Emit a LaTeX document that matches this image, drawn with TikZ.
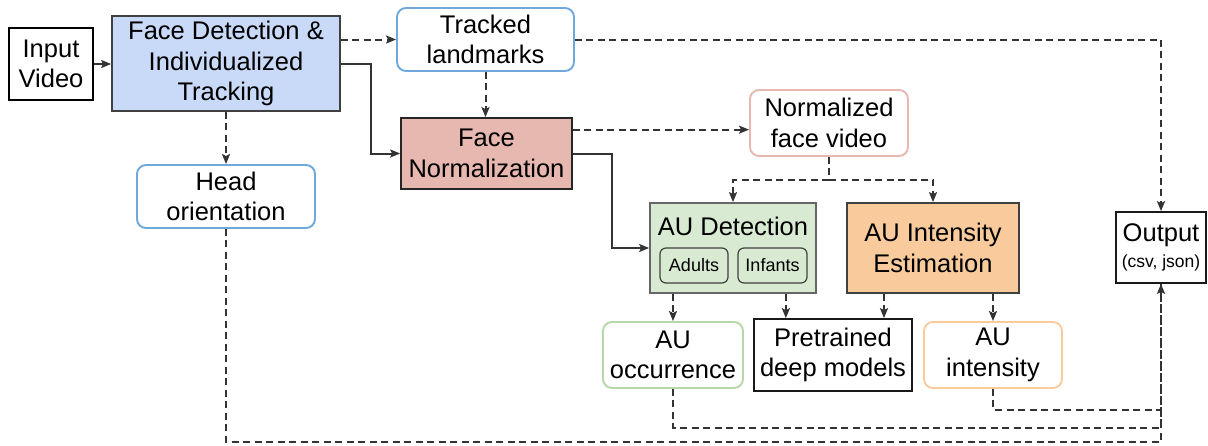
\documentclass[tikz,border=0pt]{standalone}
\usepackage{fontspec}
\setmainfont{Liberation Sans}
\usetikzlibrary{arrows.meta}
\definecolor{fdblue}{HTML}{C9DAF8}
\definecolor{lblue}{HTML}{6FA8DC}
\definecolor{fnred}{HTML}{E6B8AF}
\definecolor{augreen}{HTML}{D9EAD3}
\definecolor{lgreen}{HTML}{B6D7A8}
\definecolor{auorange}{HTML}{F9CB9C}
\definecolor{lorange}{HTML}{F9CB9C}
\definecolor{edge}{HTML}{333333}
\definecolor{boxedge}{HTML}{404040}
\tikzset{
  box/.style={draw=boxedge, line width=1.7pt, inner sep=0pt, align=center,
    font=\fontsize{25.5}{30.5}\selectfont},
  rbox/.style={box, rounded corners=9pt, line width=1.9pt},
  subbox/.style={draw=boxedge, line width=1.2pt, rounded corners=6pt, inner sep=0pt,
    font=\fontsize{18}{22}\selectfont, fill=augreen},
  txt/.style={inner sep=0pt, align=center, font=\fontsize{25.5}{30.5}\selectfont},
  solidarrow/.style={draw=edge, line width=2pt, -{Stealth[length=10pt,width=8pt,inset=2pt]}},
  dasharrow/.style={draw=edge, line width=2pt, dash pattern=on 7pt off 4.5pt, -{Stealth[length=10pt,width=8pt,inset=2pt]}},
  dashline/.style={draw=edge, line width=2pt, dash pattern=on 7pt off 4.5pt},
}
\begin{document}
\begin{tikzpicture}[x=1pt,y=-1pt]
\useasboundingbox (0,0) rectangle (1208,445);
% nodes
\node[box, draw=black, minimum width=84pt, minimum height=72pt] (inp) at (51,64) {Input\\Video};
\node[box, fill=fdblue, minimum width=228pt, minimum height=95pt] (fd) at (226,63.5) {Face Detection \&\\Individualized\\Tracking};
\node[rbox, draw=lblue, minimum width=177pt, minimum height=63pt] (tl) at (485.5,39.5) {Tracked\\landmarks};
\node[rbox, draw=lblue, minimum width=178pt, minimum height=63pt] (ho) at (226,196.5) {Head\\orientation};
\node[box, draw=black!85, fill=fnred, minimum width=171pt, minimum height=71pt] (fn) at (486.5,153.5) {Face\\Normalization};
\node[rbox, draw=fnred, minimum width=158pt, minimum height=66pt] (nfv) at (829,123) {Normalized\\face video};
\node[box, draw=gray!80!black, fill=augreen, minimum width=166pt, minimum height=90pt] (aud) at (733,248) {};
\node[txt] (audt) at (733,226) {AU Detection};
\node[subbox, minimum width=68pt, minimum height=35pt] (adults) at (694,265.5) {Adults};
\node[subbox, minimum width=69pt, minimum height=35pt] (infants) at (772.5,265.5) {Infants};
\node[box, draw=boxedge, fill=auorange, minimum width=172pt, minimum height=90pt] (aui) at (933,248) {AU Intensity\\Estimation};
\node[rbox, draw=lgreen, minimum width=140pt, minimum height=66pt] (auo) at (673,355) {AU\\occurrence};
\node[box, draw=black!90, minimum width=158pt, minimum height=72pt] (ptm) at (833,355) {Pretrained\\deep models};
\node[rbox, draw=lorange, minimum width=138pt, minimum height=66pt] (auint) at (993,355) {AU\\intensity};
\node[box, draw=black!90, minimum width=90pt, minimum height=71pt] (out) at (1161,247.5) {Output\\[-4pt]{\fontsize{17.5}{20}\selectfont (csv, json)}};
% connectors
\draw[solidarrow] (inp.east) -- (fd.west |- inp.east);
\draw[dasharrow] (tl.west -| fd.east) -- (tl.west);
\draw[solidarrow] (fd.east) -- ++(30,0) |- (fn.west);
\draw[dasharrow] (fd.south) -- (ho.north);
\draw[dasharrow] (tl.south) -- (tl.south |- fn.north);
\draw[dasharrow] ([yshift=-12.5pt]fn.north east) -- ([yshift=-12.5pt]fn.north east -| nfv.west);
\draw[solidarrow] (fn.east) -- ++(39,0) |- (aud.west);
\draw[dasharrow] (nfv.south) -- ++(0,23) -| (aud.north);
\draw[dasharrow] (nfv.south) -- ++(0,23) -| (aui.north);
\draw[dasharrow] (aud.south -| auo.north) -- (auo.north);
\draw[dasharrow] ([xshift=-31pt]aud.south east) -- ([xshift=-31pt]aud.south east |- ptm.north);
\draw[dasharrow] ([xshift=-49pt]aui.south) -- ([xshift=-49pt]aui.south |- ptm.north);
\draw[dasharrow] (aui.south -| auint.north) -- (auint.north);
\draw[dasharrow] (tl.east) -| (out.north);
\draw[dashline] (auint.south) -- ++(0,21) -| (out.south);
\draw[dashline] (auo.south) -- ++(0,39) -| (out.south);
\draw[dasharrow] (ho.south) -- ++(0,213) -| (out.south);
\end{tikzpicture}
\end{document}
